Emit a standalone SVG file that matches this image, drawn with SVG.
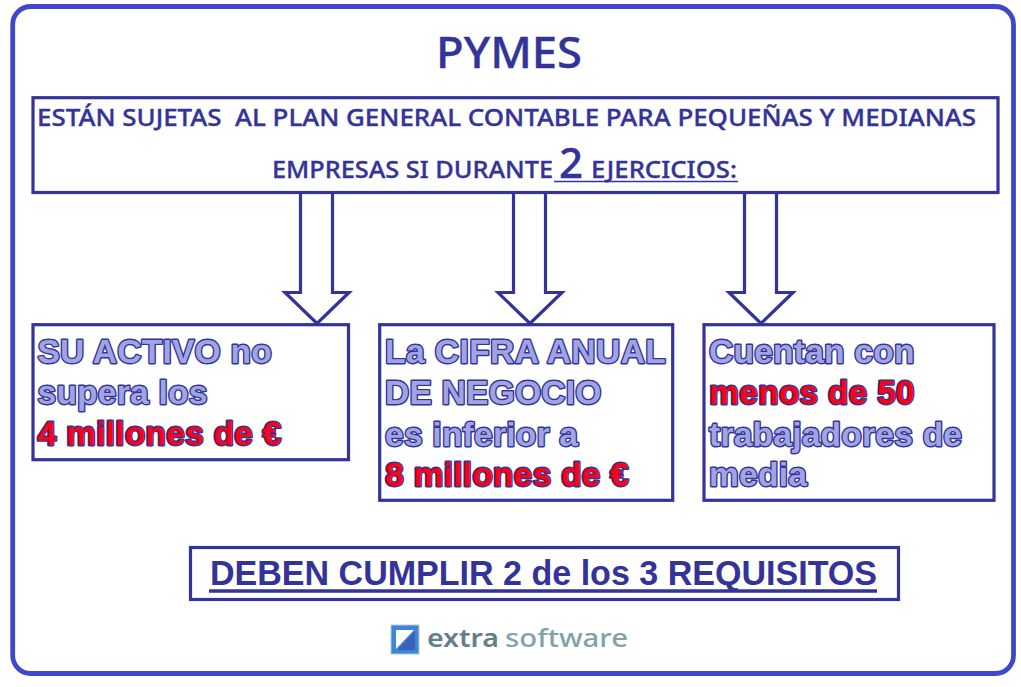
<svg xmlns="http://www.w3.org/2000/svg" width="1021" height="687" viewBox="0 0 1021 687">
<style>
.box{fill:#fff;stroke:#333399;stroke-width:3.200}
.arrow{fill:#fff;stroke:#333399;stroke-width:3.200;stroke-linejoin:miter}
.head{font-family:"Noto Sans","Open Sans",sans-serif;fill:#333399;stroke:#333399;stroke-width:.35;font-weight:500}
.out{font-family:"Liberation Sans",Arial,sans-serif;font-weight:700;font-size:33.500px;letter-spacing:.25px;stroke:#333399;stroke-width:2.800;paint-order:stroke;stroke-linejoin:round}
.blue{fill:#a0a5e2}
.red{fill:#ff0010}
.req{font-family:"Liberation Sans",Arial,sans-serif;font-weight:700;font-size:35px;fill:#333399}
.line{stroke:#333399;fill:none}
</style>
<rect width="1021" height="687" fill="#fff"/>
<g id="frame"><rect x="12.700" y="6.500" width="1000.800" height="667" rx="18" fill="#fff" stroke="#3f48cc" stroke-width="4.800"/></g>
<g id="title"><text class="head" x="509" y="68" font-size="44" text-anchor="middle" textLength="146" lengthAdjust="spacingAndGlyphs">PYMES</text></g>
<g id="connectors">
<path class="arrow" d="M300.500 192V292.500H285L317 323.500L349 292.500H332.500V192"/>
<path class="arrow" d="M513.500 192V292.500H498L530 323.500L562 292.500H545.500V192"/>
<path class="arrow" d="M744.500 192V292.500H729L761 323.500L793 292.500H776.500V192"/>
</g>
<g id="header">
<rect class="box" x="33" y="97.700" width="965" height="94.800"/>
<text class="head" x="37" y="126" font-size="24" textLength="939" lengthAdjust="spacingAndGlyphs" xml:space="preserve">ESTÁN SUJETAS  AL PLAN GENERAL CONTABLE PARA PEQUEÑAS Y MEDIANAS</text>
<text class="head" x="272" y="178" font-size="24" textLength="281" lengthAdjust="spacingAndGlyphs">EMPRESAS SI DURANTE</text>
<text class="head" x="559" y="178" font-size="41" textLength="24" lengthAdjust="spacingAndGlyphs">2</text>
<text class="head" x="591" y="178" font-size="24" textLength="146" lengthAdjust="spacingAndGlyphs">EJERCICIOS:</text>
<path class="line" stroke-width="1.500" d="M554 181.500H738"/>
</g>
<g id="activo">
<rect class="box" x="33" y="324.700" width="315.500" height="135"/>
<text class="out blue" x="37.500" y="363">SU ACTIVO no</text>
<text class="out blue" x="37.500" y="404">supera los</text>
<text class="out red" x="37.500" y="445">4 millones de €</text>
</g>
<g id="cifra">
<rect class="box" x="379.700" y="324.700" width="293" height="175.600"/>
<text class="out blue" x="385" y="363" textLength="281">La CIFRA ANUAL</text>
<text class="out blue" x="385" y="404">DE NEGOCIO</text>
<text class="out blue" x="385" y="446">es inferior a</text>
<text class="out red" x="385" y="486">8 millones de €</text>
</g>
<g id="trabajadores">
<rect class="box" x="704" y="324.700" width="290" height="175.600"/>
<text class="out blue" x="709" y="363">Cuentan con</text>
<text class="out red" x="709" y="404">menos de 50</text>
<text class="out blue" x="709" y="446">trabajadores de</text>
<text class="out blue" x="709" y="486">media</text>
</g>
<g id="requisitos">
<rect class="box" x="190.500" y="547.500" width="708" height="52"/>
<text class="req" x="210" y="585" textLength="667" lengthAdjust="spacingAndGlyphs">DEBEN CUMPLIR 2 de los 3 REQUISITOS</text>
<path class="line" stroke-width="3.500" d="M209 591H877"/>
</g>
<g id="logo">
<rect x="391" y="625" width="28" height="29" fill="#3b86d8" stroke="#b9c6dc" stroke-width="1"/>
<path d="M396 630H414L396 649Z" fill="#fff"/>
<path d="M415 631V650H397Z" fill="#3a62b8"/>
<text x="427" y="647" font-family="'Noto Sans','Open Sans',sans-serif" font-weight="600" font-size="26" fill="#647f86" textLength="72" lengthAdjust="spacingAndGlyphs">extra</text>
<text x="505" y="647" font-family="'Noto Sans','Open Sans',sans-serif" font-weight="500" font-size="26" fill="#80a3a5" textLength="123" lengthAdjust="spacingAndGlyphs">software</text>
</g>
</svg>
